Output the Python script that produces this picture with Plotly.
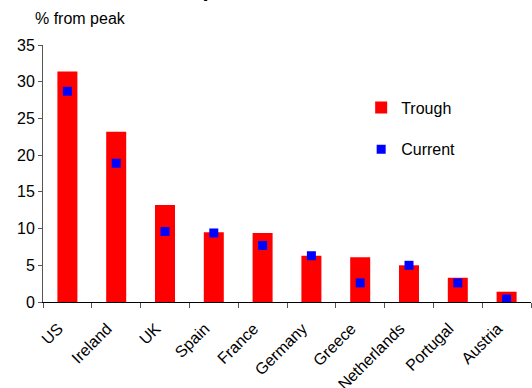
import plotly.graph_objects as go

countries = ["US", "Ireland", "UK", "Spain", "France", "Germany", "Greece",
             "Netherlands", "Portugal", "Austria"]
trough = [31.4, 23.2, 13.2, 9.5, 9.4, 6.3, 6.1, 5.0, 3.3, 1.4]
current = [28.7, 18.9, 9.6, 9.4, 7.7, 6.3, 2.6, 5.0, 2.6, 0.4]
y_ticks = [0, 5, 10, 15, 20, 25, 30, 35]

FONT = "Liberation Sans, Arial, sans-serif"

fig = go.Figure()
fig.add_trace(go.Bar(
    x=countries, y=trough, name="Trough",
    marker=dict(color="#FF0000", line=dict(width=0)),
    width=0.41, legendgroup="a",
))
fig.add_trace(go.Scatter(
    x=countries, y=current, name="Current", mode="markers",
    marker=dict(symbol="square", size=9, color="#0000FF",
                line=dict(width=0)),
    legendgroup="b",
))

fig.update_layout(
    width=532, height=388,
    margin=dict(l=43, r=1, t=45, b=86, autoexpand=False),
    paper_bgcolor="white", plot_bgcolor="white",
    font=dict(family=FONT, size=16, color="black"),
    showlegend=True,
    legend=dict(
        x=0.652, y=0.823, xanchor="left", yanchor="top",
        bgcolor="rgba(0,0,0,0)", font=dict(size=16),
        tracegroupgap=18, itemwidth=30,
    ),
    xaxis=dict(
        range=[-0.5, len(countries) - 0.5], autorange=False,
        showline=True, linecolor="black", linewidth=1,
        ticks="outside", tickson="boundaries", ticklen=5,
        tickcolor="#555555", tickangle=-45,
        ticklabelshift=-9, ticklabelstandoff=10,
        tickfont=dict(size=16), showgrid=False, zeroline=False,
    ),
    yaxis=dict(
        range=[0, 35], tickvals=y_ticks,
        showline=True, linecolor="#555555", linewidth=1,
        ticks="outside", ticklen=4, tickcolor="#555555",
        tickfont=dict(size=16), showgrid=False, zeroline=False,
    ),
    annotations=[
        dict(text="% from peak", xref="paper", yref="paper",
             x=-0.02, y=1.062, xanchor="left", yanchor="bottom",
             showarrow=False, font=dict(size=16)),
        dict(text="<b>Fall in house prices</b>", xref="paper", yref="paper",
             x=0.035, y=1.163, xanchor="left", yanchor="bottom",
             showarrow=False, font=dict(size=22)),
    ],
)

fig.write_html("out.html")
